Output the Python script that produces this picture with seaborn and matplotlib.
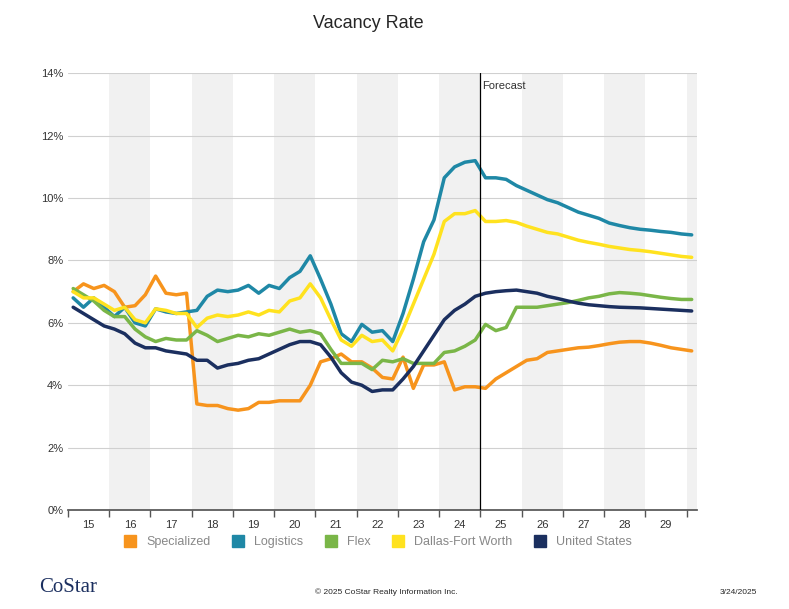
import numpy as np
import pandas as pd
import seaborn as sns
import matplotlib.pyplot as plt
from matplotlib.lines import Line2D

# quarterly values 2015Q1 .. 2030Q1
specialized = [7.0, 7.25, 7.1, 7.2, 7.0, 6.5, 6.55, 6.9, 7.5, 6.95, 6.9, 6.95,
               3.4, 3.35, 3.35, 3.25, 3.2, 3.25, 3.45, 3.45, 3.5, 3.5, 3.5, 4.0,
               4.75, 4.85, 5.0, 4.75, 4.75, 4.55, 4.25, 4.2, 4.9, 3.9, 4.65, 4.65,
               4.75, 3.85, 3.95, 3.95, 3.9, 4.2, 4.4, 4.6, 4.8, 4.85, 5.05, 5.1,
               5.15, 5.2, 5.22, 5.27, 5.33, 5.38, 5.4, 5.4, 5.35, 5.28, 5.2, 5.15, 5.1]
logistics = [6.8, 6.5, 6.8, 6.5, 6.2, 6.5, 6.0, 5.9, 6.45, 6.35, 6.3, 6.35,
             6.4, 6.85, 7.05, 7.0, 7.05, 7.2, 6.95, 7.2, 7.1, 7.45, 7.65, 8.15,
             7.4, 6.6, 5.65, 5.4, 5.95, 5.7, 5.75, 5.4, 6.3, 7.4, 8.6, 9.3,
             10.65, 11.0, 11.15, 11.2, 10.65, 10.65, 10.6, 10.4, 10.25, 10.1, 9.95, 9.85,
             9.7, 9.55, 9.45, 9.35, 9.2, 9.12, 9.05, 9.0, 8.97, 8.93, 8.9, 8.85, 8.82]
flex = [7.1, 6.9, 6.7, 6.4, 6.2, 6.2, 5.8, 5.55, 5.4, 5.5, 5.45, 5.45,
        5.75, 5.6, 5.4, 5.5, 5.6, 5.55, 5.65, 5.6, 5.7, 5.8, 5.7, 5.75,
        5.65, 5.15, 4.7, 4.7, 4.7, 4.5, 4.8, 4.75, 4.85, 4.7, 4.7, 4.7,
        5.05, 5.1, 5.25, 5.45, 5.95, 5.75, 5.85, 6.5, 6.5, 6.5, 6.55, 6.6,
        6.65, 6.72, 6.8, 6.85, 6.93, 6.97, 6.95, 6.92, 6.87, 6.82, 6.78, 6.75, 6.75]
dallas = [7.0, 6.8, 6.8, 6.6, 6.4, 6.5, 6.1, 6.0, 6.45, 6.4, 6.3, 6.3,
          5.85, 6.15, 6.25, 6.2, 6.25, 6.35, 6.25, 6.4, 6.35, 6.7, 6.8, 7.25,
          6.8, 6.1, 5.45, 5.25, 5.6, 5.4, 5.45, 5.1, 5.8, 6.6, 7.4, 8.2,
          9.25, 9.5, 9.5, 9.6, 9.25, 9.25, 9.28, 9.22, 9.1, 9.0, 8.9, 8.85,
          8.75, 8.65, 8.58, 8.52, 8.45, 8.4, 8.35, 8.32, 8.28, 8.23, 8.18, 8.13, 8.1]
united_states = [6.5, 6.3, 6.1, 5.9, 5.8, 5.65, 5.35, 5.2, 5.2, 5.1, 5.05, 5.0,
                 4.8, 4.8, 4.55, 4.65, 4.7, 4.8, 4.85, 5.0, 5.15, 5.3, 5.4, 5.4,
                 5.3, 4.9, 4.4, 4.1, 4.0, 3.8, 3.85, 3.85, 4.2, 4.6, 5.1, 5.6,
                 6.1, 6.4, 6.6, 6.85, 6.95, 7.0, 7.03, 7.05, 7.0, 6.95, 6.85, 6.78,
                 6.7, 6.63, 6.58, 6.55, 6.52, 6.5, 6.49, 6.48, 6.46, 6.44, 6.42, 6.4, 6.38]
series_names = ["Specialized", "Logistics", "Flex", "Dallas-Fort Worth", "United States"]
colors = ["#F7941D", "#1F88A6", "#7AB648", "#FFE21F", "#1B2F5F"]
years = list(range(2015, 2030))

x = 2015 + (np.arange(len(logistics)) + 0.5) / 4
rows = []
for name, vals in zip(series_names, [specialized, logistics, flex, dallas, united_states]):
    for xi, v in zip(x, vals):
        rows.append({"x": xi, "rate": v, "series": name})
df = pd.DataFrame(rows)

sns.set_theme(style="white")
plt.rcParams['font.family'] = ['Liberation Sans', 'DejaVu Sans']
fig = plt.figure(figsize=(7.89, 6.09), dpi=100)
ax = fig.add_axes([0.0862, 0.1626, 0.797, 0.717])

for y0 in range(2016, 2031, 2):
    ax.axvspan(y0, y0 + 1, color="#F1F1F1", zorder=0, lw=0)
for g in range(2, 15, 2):
    ax.axhline(g, color="#D0D0D0", lw=0.8, zorder=1)

sns.lineplot(data=df, x="x", y="rate", hue="series", palette=colors,
             hue_order=series_names, lw=2.5, ax=ax, legend=False, zorder=3)

ax.axvline(2025, color="black", lw=0.9, zorder=4)
ax.text(2025.05, 13.75, "Forecast", fontsize=8, color="#333333", va="top")

ax.set_xlim(2015, 2030.25)
ax.set_ylim(0, 14)
ax.set_yticks(range(0, 15, 2))
ax.set_yticklabels([f"{v}%" for v in range(0, 15, 2)], fontsize=8, color="#333333")
ax.set_xticks([y + 0.5 for y in years])
ax.set_xticklabels([str(y)[2:] for y in years], fontsize=8, color="#333333")
ax.set_xticks(list(range(2015, 2031)), minor=True)
ax.tick_params(axis="x", which="minor", length=5, color="#555555", bottom=True)
ax.tick_params(axis="x", which="major", length=0, pad=7)
ax.tick_params(axis="y", length=0)
ax.set_xlabel("")
ax.set_ylabel("")
for s in ["top", "right", "left"]:
    ax.spines[s].set_visible(False)
ax.spines["bottom"].set_color("#555555")

handles = [Line2D([], [], marker="s", ls="", color=c, markersize=9) for c in colors]
fig.legend(handles, series_names, loc="center", bbox_to_anchor=(0.475, 0.11), ncol=5,
           frameon=False, fontsize=9, handletextpad=0.3, columnspacing=1.2,
           labelcolor="#888888")

fig.text(0.467, 0.962, "Vacancy Rate", ha="center", va="center", fontsize=13)
fig.text(0.49, 0.025, "© 2025 CoStar Realty Information Inc.", ha="center", fontsize=6)
fig.text(0.96, 0.025, "3/24/2025", ha="right", fontsize=6)
fig.text(0.05, 0.028, "CoStar", fontsize=15, color="#1B2F5F", family="Liberation Serif")

fig.savefig("out.png", dpi=100)
